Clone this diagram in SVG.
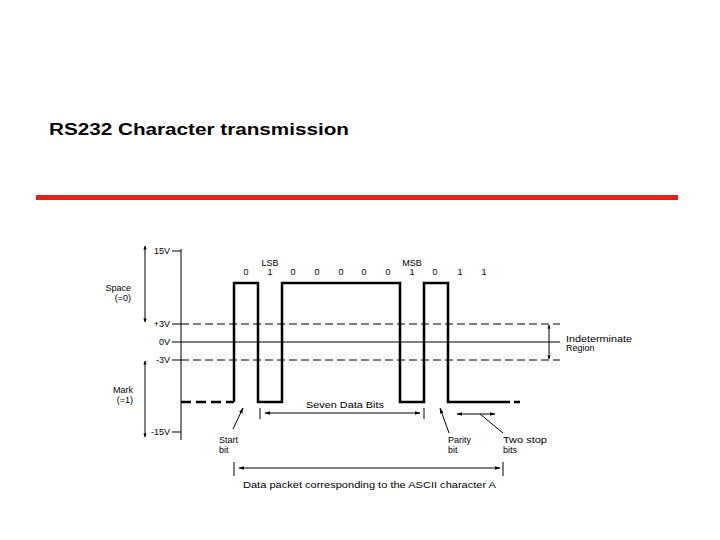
<svg xmlns="http://www.w3.org/2000/svg" width="720" height="540" viewBox="0 0 720 540">
<defs>
<style>
text{font-family:"Liberation Sans",Arial,sans-serif;font-size:9px;fill:#000}
.t{font-size:16px;font-weight:bold}
.ln{stroke:#000;stroke-width:1;fill:none}
.d{stroke:#000;stroke-width:1;stroke-dasharray:8,4;fill:none}
.w{stroke:#000;stroke-width:2.5;fill:none}
</style>
<marker id="a" viewBox="0 0 10 10" refX="9" refY="5" markerWidth="6" markerHeight="6" orient="auto-start-reverse"><path d="M0,2 L10,5 L0,8z"/></marker>
<marker id="b" viewBox="0 0 10 10" refX="9" refY="5" markerWidth="4" markerHeight="4" orient="auto-start-reverse"><path d="M0,1 L10,5 L0,9z"/></marker>
</defs>
<rect width="720" height="540" fill="#fff"/>
<text class="t" x="49" y="135" textLength="300" lengthAdjust="spacingAndGlyphs">RS232 Character transmission</text>
<rect x="36" y="195" width="642" height="5" fill="#d9251c"/>
<g id="axis">
<path class="ln" d="M181,249V440M172,251H181M172,324H181M172,342H181M172,360H181M172,432H181"/>
<text x="170" y="254" text-anchor="end">15V</text>
<text x="170" y="327" text-anchor="end">+3V</text>
<text x="170" y="345" text-anchor="end">0V</text>
<text x="170" y="363" text-anchor="end">-3V</text>
<text x="170" y="435" text-anchor="end">-15V</text>
</g>
<g id="levels">
<path class="d" d="M181,324H560M181,360H560"/>
<path class="ln" d="M181,342H560"/>
</g>
<g id="waveform">
<path class="w" stroke-dasharray="10,5" d="M181,402H234"/>
<path class="w" d="M234,402V283H258V402H282V283H400V402H424V283H448V402H502"/>
<path class="w" stroke-dasharray="8,4" d="M502,402H520"/>
</g>
<g id="bits" text-anchor="middle">
<text x="270" y="266">LSB</text><text x="412" y="266">MSB</text>
<text x="246" y="275">0</text><text x="270" y="275">1</text><text x="293" y="275">0</text><text x="317" y="275">0</text><text x="341" y="275">0</text><text x="364" y="275">0</text><text x="388" y="275">0</text><text x="412" y="275">1</text><text x="435" y="275">0</text><text x="460" y="275">1</text><text x="484" y="275">1</text>
</g>
<g id="connectors">
<path class="ln" stroke-width="2" marker-start="url(#b)" marker-end="url(#b)" d="M145,246V322"/>
<path class="ln" stroke-width="2" marker-start="url(#b)" marker-end="url(#b)" d="M145,361V437"/>
<path class="ln" stroke-width="2" marker-start="url(#b)" marker-end="url(#b)" d="M549,325V359"/>
<path class="ln" d="M260,408V419M424,408V419M234,462V476M503,462V476"/>
<path class="ln" marker-start="url(#a)" marker-end="url(#a)" d="M265,413H420"/>
<path class="ln" marker-start="url(#a)" marker-end="url(#a)" d="M239,468H500"/>
<path class="ln" marker-end="url(#a)" d="M233,429L243,408"/>
<path class="ln" marker-end="url(#a)" d="M449,433L440,408"/>
<path class="ln" marker-start="url(#a)" marker-end="url(#a)" d="M457,414H495"/>
<path class="ln" d="M503,433L480,414"/>
</g>
<g id="labels">
<text x="131" y="291" text-anchor="end">Space</text><text x="131" y="301" text-anchor="end">(=0)</text>
<text x="133" y="393" text-anchor="end">Mark</text><text x="133" y="403" text-anchor="end">(=1)</text>
<text x="566" y="342" textLength="66" lengthAdjust="spacingAndGlyphs">Indeterminate</text><text x="566" y="351">Region</text>
<text x="306" y="408" textLength="78" lengthAdjust="spacingAndGlyphs">Seven Data Bits</text>
<text x="219" y="443">Start</text><text x="219" y="453">bit</text>
<text x="448" y="443">Parity</text><text x="448" y="453">bit</text>
<text x="503" y="443" textLength="44" lengthAdjust="spacingAndGlyphs">Two stop</text><text x="503" y="453">bits</text>
<text x="243" y="488" textLength="253" lengthAdjust="spacingAndGlyphs">Data packet corresponding to the ASCII character A</text>
</g>
</svg>
